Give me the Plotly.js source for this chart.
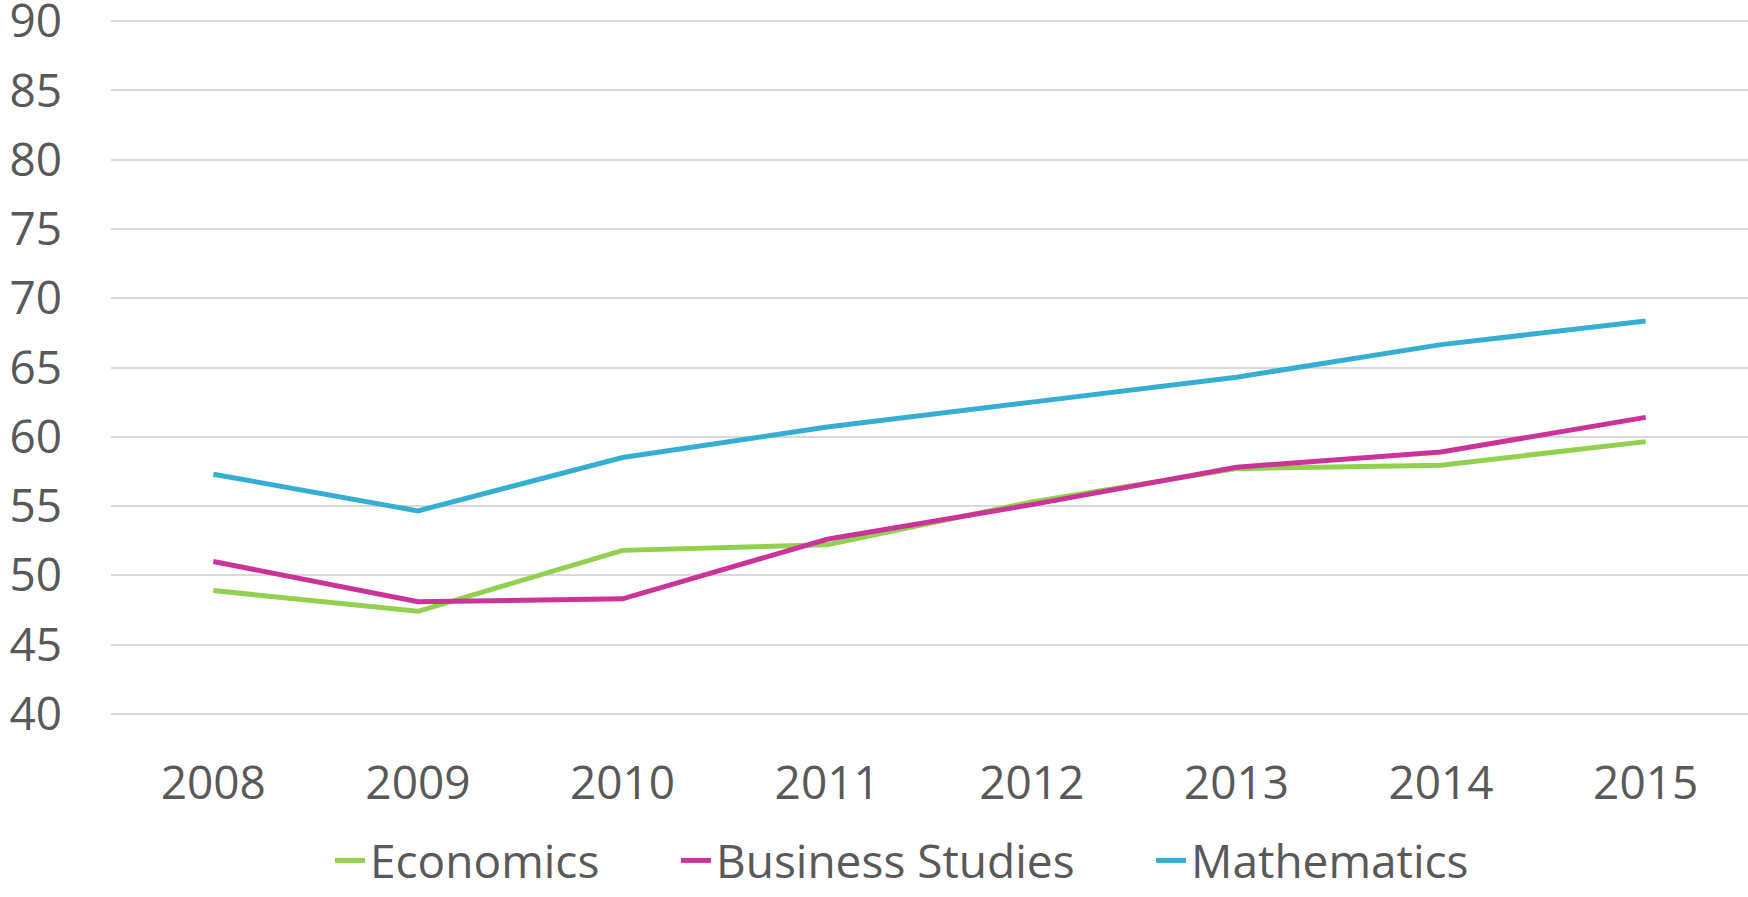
<!DOCTYPE html>
<html>
<head>
<meta charset="utf-8">
<script src="https://cdn.plot.ly/plotly-3.0.1.min.js"></script>
<style>html,body{margin:0;padding:0;background:#fff;}#chart{width:1748px;height:897px;}</style>
</head>
<body>
<div id="chart"></div>
<script>
const years = ["2008", "2009", "2010", "2011", "2012", "2013", "2014", "2015"];
const economics = [48.9, 47.4, 51.8, 52.2, 55.3, 57.7, 57.95, 59.65];
const businessStudies = [51.0, 48.1, 48.3, 52.6, 55.1, 57.8, 58.9, 61.4];
const mathematics = [57.3, 54.65, 58.5, 60.7, 62.5, 64.3, 66.65, 68.35];
const yTicks = [40, 45, 50, 55, 60, 65, 70, 75, 80, 85, 90];

const textColor = '#595959';
const fontFam = '"Open Sans", sans-serif';
const lw = 5;

const traces = [
  {x: years, y: economics, name: 'Economics', type: 'scatter', mode: 'lines', line: {color: '#92D050', width: lw}, legend: 'legend'},
  {x: years, y: businessStudies, name: 'Business Studies', type: 'scatter', mode: 'lines', line: {color: '#CC3399', width: lw}, legend: 'legend2'},
  {x: years, y: mathematics, name: 'Mathematics', type: 'scatter', mode: 'lines', line: {color: '#35AFD1', width: lw}, legend: 'legend3'}
];

const legFont = {size: 46, color: textColor, family: fontFam};
function leg(x) {
  return {orientation: 'h', xref: 'container', yref: 'container', x: x, xanchor: 'left', y: -0.006, yanchor: 'bottom',
          font: legFont, bgcolor: 'rgba(0,0,0,0)', borderwidth: 0};
}

const layout = {
  width: 1748, height: 897,
  margin: {l: 111, r: 0, t: 17, b: 179, pad: 0},
  paper_bgcolor: '#fff', plot_bgcolor: '#fff',
  font: {family: fontFam, color: textColor, size: 46},
  showlegend: true,
  legend: leg(0.1888),
  legend2: leg(0.3867),
  legend3: leg(0.6585),
  xaxis: {type: 'category', range: [-0.5, 7.5], showgrid: false, zeroline: false, showline: false,
          ticks: '', tickfont: {size: 46, color: textColor}, ticklabelstandoff: 34, fixedrange: true},
  yaxis: {range: [39.7, 90.3], tickvals: yTicks, ticktext: yTicks.map(String), showgrid: true, gridcolor: '#D9D9D9', gridwidth: 2,
          zeroline: false, showline: false, ticks: '', tickfont: {size: 46, color: textColor}, ticklabelstandoff: 48,
          ticklabeloverflow: 'allow', fixedrange: true}
};

Plotly.newPlot('chart', traces, layout, {displayModeBar: false, staticPlot: true});
</script>
</body>
</html>
